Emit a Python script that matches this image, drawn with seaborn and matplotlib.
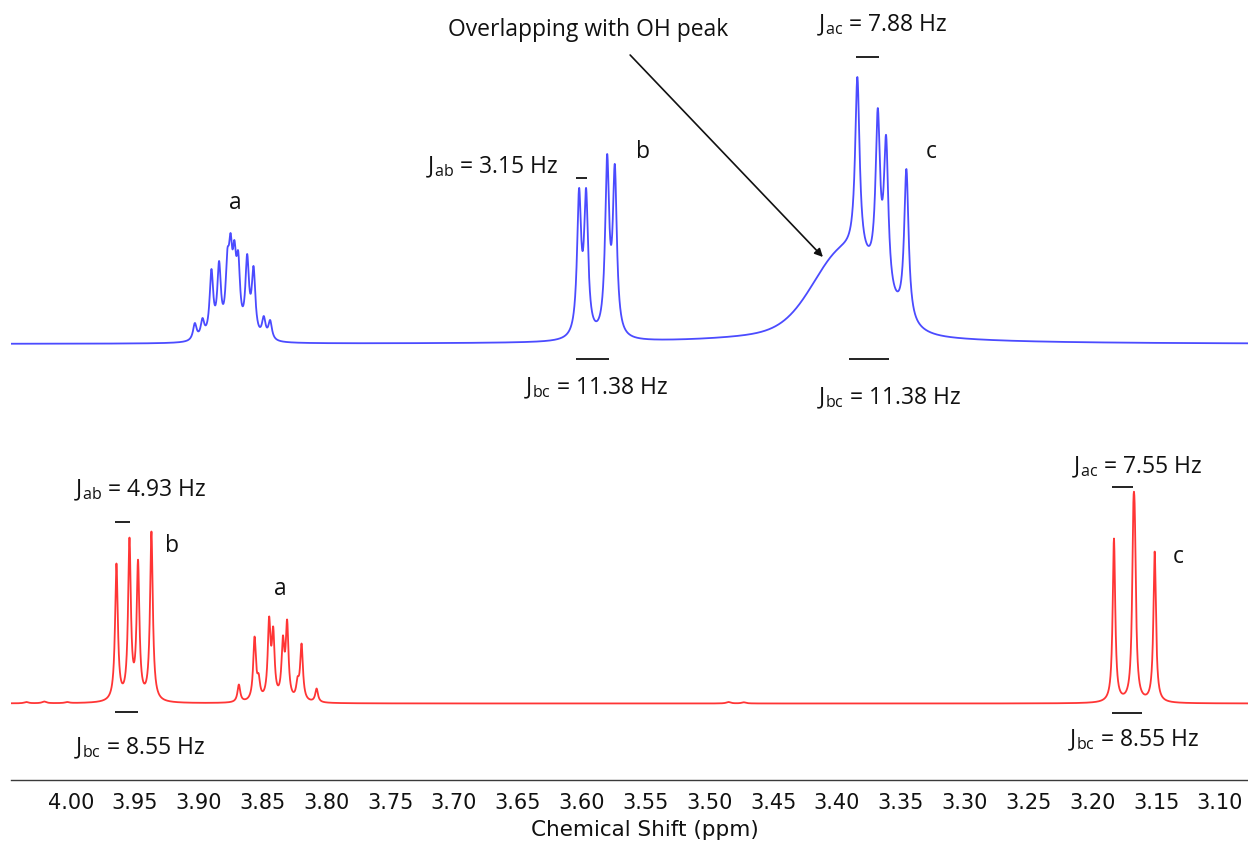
import numpy as np
import pandas as pd
import matplotlib
matplotlib.use("Agg")
import matplotlib.pyplot as plt
from matplotlib.ticker import MultipleLocator, FormatStrFormatter
import seaborn as sns

# ---- spectral data (chemical shift in ppm, intensity in arbitrary units) ----
# upper (blue) spectrum: resolved lines of multiplets a, b and c
blue_ppm = [3.903, 3.897, 3.890, 3.884, 3.8775, 3.875, 3.872, 3.869, 3.862, 3.857, 3.849, 3.844,
            3.602, 3.5965, 3.580, 3.574,
            3.384, 3.368, 3.3615, 3.3456,
            3.452]
blue_height = [21, 26, 75, 83, 95, 111, 104, 93, 90, 78, 28, 24,
               156, 156, 190, 180,
               267, 236, 209, 175,
               4]
blue_width = [0.0017] * 12 + [0.0019] * 4 + [0.0021] * 4 + [0.002]
# broad exchangeable OH resonance under multiplet c (center, height, gaussian sigma)
oh_center, oh_height, oh_sigma = 3.393, 76, 0.024
# long lorentzian tail of the OH resonance (center, height, half width)
tail_center, tail_height, tail_width = 3.405, 17, 0.065

# lower (red) spectrum
red_ppm = [3.9644, 3.9542, 3.9475, 3.937,
           3.8685, 3.8562, 3.853, 3.8448, 3.8416, 3.834, 3.8307, 3.8225, 3.8194, 3.8076,
           3.183, 3.1678, 3.1667, 3.1511,
           4.035, 4.021, 4.003, 3.485, 3.473]
red_height = [140, 166, 144, 172,
              19, 67, 30, 87, 77, 68, 84, 27, 60, 15,
              165, 201, 194, 152,
              1.5, 2, 1.5, 1.5, 1.2]
red_width = [0.0013] * 4 + [0.0013] * 10 + [0.0012] * 4 + [0.002] * 5

# vertical stacking of the two traces
blue_offset = 436
red_offset = 76.5

shift = np.linspace(4.06, 3.07, 9000)


def lorentz(x, x0, w):
    return 1.0 / (1.0 + ((x - x0) / w) ** 2)


def background(x):
    return (oh_height * np.exp(-0.5 * ((x - oh_center) / oh_sigma) ** 2)
            + tail_height * lorentz(x, tail_center, tail_width))


def build_trace(ppm, height, width, base=None):
    ppm = np.asarray(ppm, float)
    height = np.asarray(height, float)
    width = np.asarray(width, float)
    bg_at_peaks = base(ppm) if base is not None else 0.0
    # line amplitudes such that the summed curve reaches the listed heights
    M = lorentz(ppm[:, None], ppm[None, :], width[None, :])
    amp = np.clip(np.linalg.solve(M, height - bg_at_peaks), 0, None)
    y = (amp[None, :] * lorentz(shift[:, None], ppm[None, :], width[None, :])).sum(axis=1)
    if base is not None:
        y = y + base(shift)
    return y


blue_trace = build_trace(blue_ppm, blue_height, blue_width, background)
red_trace = build_trace(red_ppm, red_height, red_width)

df = pd.concat([
    pd.DataFrame({"shift": shift, "intensity": blue_trace + blue_offset, "spectrum": "upper"}),
    pd.DataFrame({"shift": shift, "intensity": red_trace + red_offset, "spectrum": "lower"}),
])

sns.set_style("white")
plt.rcParams["font.family"] = ["Open Sans", "DejaVu Sans"]

fig = plt.figure(figsize=(12.48, 8.46), dpi=100)
ax = fig.add_axes([11 / 1248, 66 / 846, 1 - 11 / 1248, 780 / 846])

sns.lineplot(data=df, x="shift", y="intensity", hue="spectrum",
             palette={"upper": "#4b4bff", "lower": "#ff3535"},
             linewidth=1.3, legend=False, ax=ax, sort=False, estimator=None)

ax.set_xlim(4.047, 3.078)
ax.set_ylim(0, 780)
ax.set_yticks([])
ax.set_ylabel("")
for side in ("left", "top", "right"):
    ax.spines[side].set_visible(False)
ax.spines["bottom"].set_color("#3a3a3a")
ax.spines["bottom"].set_linewidth(1.0)

ax.xaxis.set_major_locator(MultipleLocator(0.05))
ax.xaxis.set_minor_locator(MultipleLocator(0.025))
ax.xaxis.set_major_formatter(FormatStrFormatter("%.2f"))
ax.tick_params(axis="x", which="major", direction="out", length=5, width=1,
               color="#3a3a3a", pad=4, labelsize=15, labelcolor="#111111")
ax.tick_params(axis="x", which="minor", direction="out", length=3, width=1, color="#3a3a3a")
for lab in ax.get_xticklabels():
    lab.set_family("DejaVu Sans")
ax.set_xlabel("Chemical Shift (ppm)", family="DejaVu Sans", fontsize=15.5,
              color="#111111")
ax.xaxis.set_label_coords((645 - 11) / (1248 - 11), -40 / 780)

txt = dict(fontsize=16.5, color="#111111", ha="center", va="center")


def bar(x0, x1, y):
    ax.plot([x0, x1], [y, y], color="#111111", lw=1.3, solid_capstyle="butt")


# upper spectrum annotations
ax.text(3.871, 577, "a", **txt)
ax.text(3.552, 628, "b", **txt)
ax.text(3.326, 628, "c", **txt)
ax.text(3.670, 613, r"$\mathregular{J_{ab}}$ = 3.15 Hz", **txt)
bar(3.6043, 3.5957, 602)
bar(3.6043, 3.5785, 421)
ax.text(3.589, 392, r"$\mathregular{J_{bc}}$ = 11.38 Hz", **txt)
ax.text(3.365, 755, r"$\mathregular{J_{ac}}$ = 7.88 Hz", **txt)
bar(3.3850, 3.3669, 723)
bar(3.3905, 3.3592, 421)
ax.text(3.359, 382, r"$\mathregular{J_{bc}}$ = 11.38 Hz", **txt)
ax.text(3.595, 750, "Overlapping with OH peak", **txt)
ax.annotate("", xy=(3.411, 523), xytext=(3.562, 725),
            arrowprops=dict(arrowstyle="-|>", color="#111111", lw=1.2,
                            mutation_scale=12, shrinkA=0, shrinkB=0))

# lower spectrum annotations
ax.text(3.946, 290, r"$\mathregular{J_{ab}}$ = 4.93 Hz", **txt)
bar(3.9657, 3.9540, 258)
ax.text(3.921, 234, "b", **txt)
ax.text(3.836, 191, "a", **txt)
bar(3.9657, 3.9477, 68)
ax.text(3.946, 32, r"$\mathregular{J_{bc}}$ = 8.55 Hz", **txt)
ax.text(3.165, 313, r"$\mathregular{J_{ac}}$ = 7.55 Hz", **txt)
bar(3.1846, 3.1682, 293)
ax.text(3.1324, 223, "c", **txt)
bar(3.1846, 3.1611, 67)
ax.text(3.1677, 40, r"$\mathregular{J_{bc}}$ = 8.55 Hz", **txt)

fig.savefig("out.png", dpi=100)
